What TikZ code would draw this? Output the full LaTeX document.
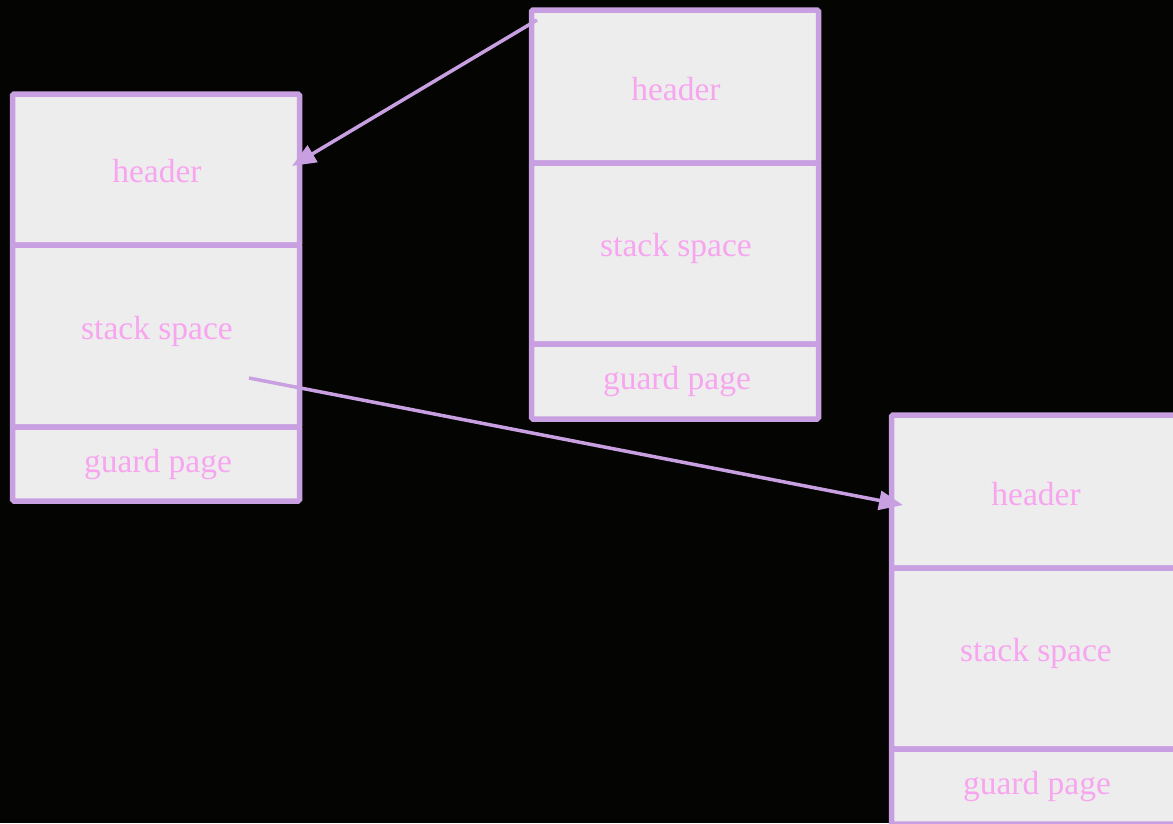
\documentclass[tikz,border=0pt]{standalone}
\usepackage{fontspec}
\setmainfont{Liberation Serif}
\usetikzlibrary{arrows.meta}
\definecolor{bordc}{RGB}{200,160,225}
\definecolor{txtc}{RGB}{248,165,240}
\definecolor{fillc}{RGB}{237,237,237}
\definecolor{bgc}{RGB}{4,4,3}
\begin{document}
\begin{tikzpicture}[x=1pt,y=-1pt,
  seg/.style={draw=bordc,fill=fillc,line width=5.5pt,rounded corners=1.5pt,
    minimum width=287pt,inner sep=0pt,outer sep=0pt},
  lab/.style={text=txtc,font=\fontsize{33.5}{40}\selectfont,inner sep=0pt},
  link/.style={draw=bordc,line width=3.5pt,-{Triangle[length=24pt,width=19pt]}}]
\fill[bgc] (0,0) rectangle (1173,823);
\useasboundingbox (0,0) rectangle (1173,823);
% stack 1
\node[seg,minimum height=151pt] (h1) at (156,169.5) {};
\node[seg,minimum height=182pt] (s1) at (156,336) {};
\node[seg,minimum height=74pt] (g1) at (156,464) {};
% stack 2
\node[seg,minimum height=153pt] (h2) at (675,86.5) {};
\node[seg,minimum height=181pt] (s2) at (675,253.5) {};
\node[seg,minimum height=75pt] (g2) at (675,381.5) {};
% stack 3
\node[seg,minimum height=153pt] (h3) at (1035,491.5) {};
\node[seg,minimum height=181pt] (s3) at (1035,658.5) {};
\node[seg,minimum height=75pt] (g3) at (1035,786.5) {};
% labels
\node[lab] (lh1) at (157,171) {header};
\node[lab] (ls1) at (157,331) {stack space};
\node[lab] (lg1) at (158,464) {guard page};
\node[lab] (lh2) at (676,89) {header};
\node[lab] (ls2) at (676,248) {stack space};
\node[lab] (lg2) at (677,381) {guard page};
\node[lab] (lh3) at (1036,494) {header};
\node[lab] (ls3) at (1036,653) {stack space};
\node[lab] (lg3) at (1037,786) {guard page};
% connectors
\coordinate (a1s) at (537,20);
\coordinate (a1e) at (292,166);
\coordinate (a2s) at (249,378);
\coordinate (a2e) at (903,505);
\draw[link] (a1s) -- (a1e);
\draw[link] (a2s) -- (a2e);
\end{tikzpicture}
\end{document}
